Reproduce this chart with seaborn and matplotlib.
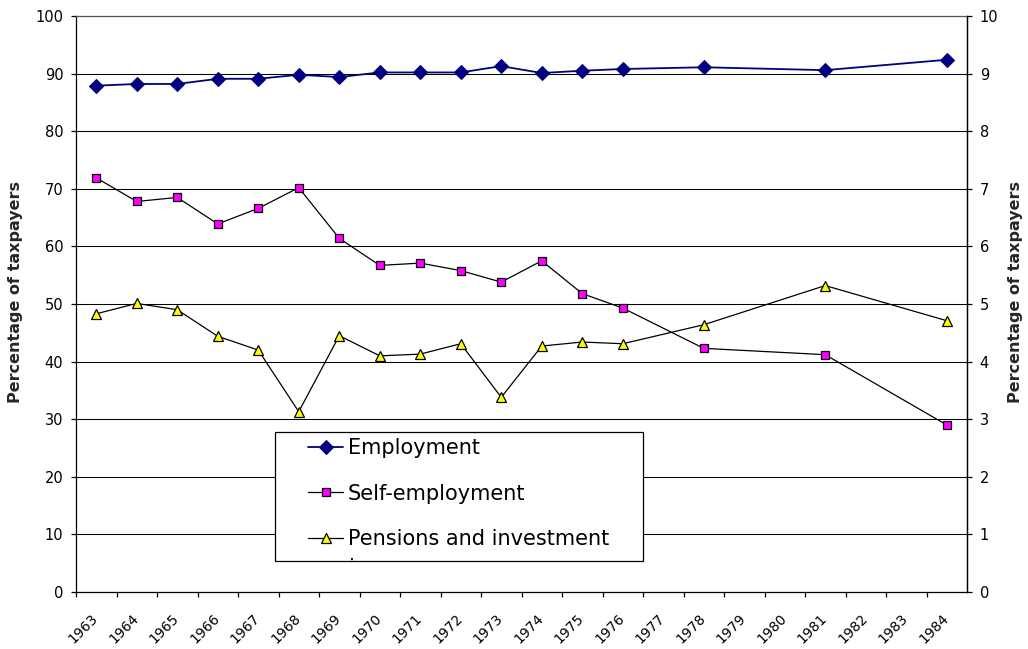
import numpy as np
import pandas as pd
import matplotlib
matplotlib.use("Agg")
import matplotlib.pyplot as plt
import matplotlib.transforms as mtransforms
from matplotlib.patches import Rectangle
import seaborn as sns

# Share of taxpayers with each income source, by year
years = [1963, 1964, 1965, 1966, 1967, 1968, 1969, 1970, 1971, 1972, 1973,
         1974, 1975, 1976, 1978, 1981, 1984]
employment = [87.9, 88.2, 88.2, 89.1, 89.1, 89.8, 89.4, 90.2, 90.2, 90.2, 91.3,
              90.1, 90.5, 90.8, 91.1, 90.6, 92.4]
self_employment = [71.9, 67.8, 68.5, 63.9, 66.6, 70.2, 61.4, 56.7, 57.1, 55.8, 53.8,
                   57.5, 51.8, 49.3, 42.3, 41.2, 29.0]
pensions = [48.3, 50.1, 49.0, 44.4, 42.0, 31.3, 44.5, 41.0, 41.3, 43.1, 33.8,
            42.7, 43.4, 43.1, 46.4, 53.2, 47.1]
year_ticks = list(range(1963, 1985))
left_ticks = list(range(0, 101, 10))
right_ticks = list(range(0, 11))

sns.set_theme(style="white")
plt.rcParams["font.family"] = ["DejaVu Sans"]

W, H = 1028, 649
fig = plt.figure(figsize=(W / 100, H / 100), dpi=100)
ax = fig.add_axes([76 / W, 1 - 592 / H, 891 / W, 576 / H])

# each year's value sits in the middle of its year interval
x_mid = np.array(years) + 0.5
df = pd.DataFrame({"x": x_mid, "Employment": employment,
                   "Self-employment": self_employment,
                   "Pensions and investment": pensions})

sns.lineplot(data=df, x="x", y="Employment", ax=ax, color="#000080", lw=1.3,
             marker="D", markersize=6.8, markeredgecolor="#000080",
             markerfacecolor="#000080", label="Employment", zorder=3)
sns.lineplot(data=df, x="x", y="Self-employment", ax=ax, color="black", lw=0.9,
             marker="s", markersize=6.2, markeredgecolor="black", markeredgewidth=0.9,
             markerfacecolor="#FF00FF", label="Self-employment", zorder=3)
sns.lineplot(data=df, x="x", y="Pensions and investment", ax=ax, color="black", lw=0.9,
             marker="^", markersize=6.8, markeredgecolor="black", markeredgewidth=0.9,
             markerfacecolor="#FFFF00", label="Pensions and investment", zorder=3)

ax.set_xlim(1963, 1985)
ax.set_ylim(0, 100)
ax.set_xticks(year_ticks)
ax.set_xticklabels([str(y) for y in year_ticks], fontsize=10, rotation=45,
                   ha="right", va="top", rotation_mode="anchor")
ax.set_yticks(left_ticks)
ax.set_yticklabels([str(v) for v in left_ticks], fontsize=10.5)
ax.set_xlabel("")
ax.set_ylabel("Percentage of taxpayers", fontsize=11.5, fontweight="bold")
ax.yaxis.set_label_coords(-0.0595, 0.521)

ax.yaxis.grid(True, color="black", lw=0.75)
ax.xaxis.grid(False)
ax.set_axisbelow(True)
for side in ["left", "bottom", "right", "top"]:
    ax.spines[side].set_color("black")
    ax.spines[side].set_linewidth(0.9)
ax.spines["top"].set_color("#555555")
ax.tick_params(axis="both", direction="out", length=3.6, width=0.9, color="black",
               labelcolor="black")
ax.tick_params(axis="y", pad=5.5, left=True)
ax.tick_params(axis="x", pad=10, bottom=True)

offset = mtransforms.ScaledTranslation(15 / 100, 0, fig.dpi_scale_trans)
for lab in ax.get_xticklabels():
    lab.set_transform(lab.get_transform() + offset)

# secondary scale on the right
ax2 = ax.twinx()
ax2.set_ylim(0, 10)
ax2.set_yticks(right_ticks)
ax2.set_yticklabels([str(v) for v in right_ticks], fontsize=10.5)
ax2.set_ylabel("Percentage of taxpayers", fontsize=11.5, fontweight="bold")
ax2.yaxis.set_label_coords(1.046, 0.521)
ax2.grid(False)
for side in ["left", "bottom", "right", "top"]:
    ax2.spines[side].set_visible(False)
ax2.spines["right"].set_visible(True)
ax2.spines["right"].set_color("black")
ax2.spines["right"].set_linewidth(0.9)
ax2.tick_params(axis="y", direction="out", length=3.6, width=0.9, pad=5.5,
                right=True, color="black", labelcolor="black")

# legend box
box = (275 / W, 1 - 561 / H, 368 / W, 129 / H)
rect = Rectangle(box[:2], box[2], box[3], transform=fig.transFigure,
                 facecolor="white", edgecolor="black", lw=0.9, zorder=4.8,
                 clip_on=False)
ax.add_patch(rect)
leg = ax.legend(loc="upper left", bbox_to_anchor=(307.7 / W, 1 - 438.5 / H),
                bbox_transform=fig.transFigure, frameon=False, fontsize=15,
                borderpad=0, borderaxespad=0, handlelength=1.71,
                handletextpad=0.22, labelspacing=1.21)
leg.set_zorder(5)
for t in leg.get_texts():
    t.set_color("black")

# wrapped second line of the last legend entry, cut off by the box edge
clip = mtransforms.TransformedBbox(
    mtransforms.Bbox.from_bounds(*box), fig.transFigure)
extra = ax.text(349 / W, 1 - 574.5 / H, "income", transform=fig.transFigure,
                fontsize=15, ha="left", va="baseline", color="black", zorder=5.5)
extra.set_clip_box(clip)
extra.set_clip_on(True)

fig.savefig("out.png", dpi=100)
